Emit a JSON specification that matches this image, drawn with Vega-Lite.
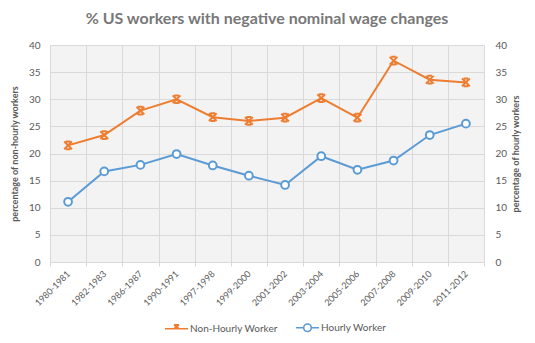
{
  "$schema": "https://vega.github.io/schema/vega-lite/v6.json",
  "autosize": "none",
  "padding": {"left": 50, "top": 45, "right": 51, "bottom": 81},
  "width": 434,
  "height": 217,
  "background": "white",
  "title": {
    "text": "% US workers with negative nominal  wage changes",
    "font": "Lato",
    "fontSize": 16,
    "fontWeight": "bold",
    "color": "#787878",
    "anchor": "middle",
    "offset": 13,
    "letterSpacing": 1.5
  },
  "data": {
    "values": [
      {"period": "1980-1981", "series": "Non-Hourly Worker", "value": 21.5},
      {"period": "1982-1983", "series": "Non-Hourly Worker", "value": 23.4},
      {"period": "1986-1987", "series": "Non-Hourly Worker", "value": 27.9},
      {"period": "1990-1991", "series": "Non-Hourly Worker", "value": 30.0},
      {"period": "1997-1998", "series": "Non-Hourly Worker", "value": 26.7},
      {"period": "1999-2000", "series": "Non-Hourly Worker", "value": 26.0},
      {"period": "2001-2002", "series": "Non-Hourly Worker", "value": 26.6},
      {"period": "2003-2004", "series": "Non-Hourly Worker", "value": 30.2},
      {"period": "2005-2006", "series": "Non-Hourly Worker", "value": 26.6},
      {"period": "2007-2008", "series": "Non-Hourly Worker", "value": 37.1},
      {"period": "2009-2010", "series": "Non-Hourly Worker", "value": 33.6},
      {"period": "2011-2012", "series": "Non-Hourly Worker", "value": 33.1},
      {"period": "1980-1981", "series": "Hourly Worker", "value": 11.1},
      {"period": "1982-1983", "series": "Hourly Worker", "value": 16.7},
      {"period": "1986-1987", "series": "Hourly Worker", "value": 17.9},
      {"period": "1990-1991", "series": "Hourly Worker", "value": 19.9},
      {"period": "1997-1998", "series": "Hourly Worker", "value": 17.8},
      {"period": "1999-2000", "series": "Hourly Worker", "value": 15.9},
      {"period": "2001-2002", "series": "Hourly Worker", "value": 14.2},
      {"period": "2003-2004", "series": "Hourly Worker", "value": 19.5},
      {"period": "2005-2006", "series": "Hourly Worker", "value": 17.0},
      {"period": "2007-2008", "series": "Hourly Worker", "value": 18.7},
      {"period": "2009-2010", "series": "Hourly Worker", "value": 23.4},
      {"period": "2011-2012", "series": "Hourly Worker", "value": 25.5}
    ]
  },
  "config": {
    "font": "Lato",
    "view": {"fill": "#f3f3f3", "stroke": null},
    "axis": {
      "labelFont": "Lato",
      "labelColor": "#595959",
      "titleFont": "Lato",
      "titleColor": "#595959",
      "gridColor": "#d9d9d9",
      "gridWidth": 1,
      "domainColor": "#d9d9d9",
      "tickColor": "#d9d9d9"
    }
  },
  "layer": [
    {
      "transform": [{"filter": "datum.series === 'Non-Hourly Worker'"}],
      "encoding": {
        "x": {
          "field": "period",
          "type": "ordinal",
          "sort": null,
          "scale": {"type": "band", "paddingInner": 0, "paddingOuter": 0},
          "axis": {
            "title": null,
            "tickBand": "extent",
            "grid": true,
            "ticks": true,
            "tickSize": 4,
            "domain": true,
            "labelAngle": -45,
            "labelAlign": "right",
            "labelBaseline": "middle",
            "labelPadding": 6,
            "labelFontSize": 9
          }
        },
        "y": {
          "field": "value",
          "type": "quantitative",
          "scale": {"domain": [0, 40], "nice": false},
          "axis": {
            "orient": "left",
            "values": [0, 5, 10, 15, 20, 25, 30, 35, 40],
            "title": "percentage of non-hourly workers",
            "titleFontSize": 9,
            "titleFontWeight": "bold",
            "titlePadding": 9,
            "labelFontSize": 10,
            "labelPadding": 10,
            "domain": false,
            "ticks": false,
            "grid": true
          }
        },
        "color": {
          "field": "series",
          "type": "nominal",
          "scale": {"domain": ["Non-Hourly Worker", "Hourly Worker"], "range": ["#ed7d31", "#5b9bd5"]},
          "legend": {
            "title": null,
            "orient": "none",
            "legendX": 114,
            "legendY": 270,
            "direction": "horizontal",
            "symbolSize": 529,
            "symbolStrokeWidth": 1.6,
            "labelFontSize": 10,
            "labelColor": "#595959",
            "labelOffset": 1,
            "columnPadding": 14,
            "encode": {
              "symbols": {
                "update": {
                  "shape": {"signal": "datum.value === 'Hourly Worker' ? 'M-1,0H-0.33M0.33,0H1M-0.33,0A0.33,0.33 0 1,0 0.33,0A0.33,0.33 0 1,0 -0.33,0' : 'M-1,0H1M-0.22,-0.34L0.22,0M-0.22,0L0.22,-0.34M-0.22,-0.34H0.22'"},
                  "fill": {"value": "white"},
                  "strokeWidth": {"value": 1.6}
                }
              }
            }
          }
        }
      },
      "layer": [
        {"mark": {"type": "line", "strokeWidth": 2}},
        {"mark": {"type": "point", "shape": "M-1,-1L1,1M-1,1L1,-1M-0.6,-1H0.6M-0.6,1H0.6", "filled": false, "size": 60, "strokeWidth": 2, "opacity": 1}}
      ]
    },
    {
      "transform": [{"filter": "datum.series === 'Hourly Worker'"}],
      "encoding": {
        "x": {
          "field": "period",
          "type": "ordinal",
          "sort": null,
          "scale": {"type": "band", "paddingInner": 0, "paddingOuter": 0},
          "axis": {
            "title": null,
            "tickBand": "extent",
            "grid": true,
            "ticks": true,
            "tickSize": 4,
            "domain": true,
            "labelAngle": -45,
            "labelAlign": "right",
            "labelBaseline": "middle",
            "labelPadding": 6,
            "labelFontSize": 9
          }
        },
        "y": {
          "field": "value",
          "type": "quantitative",
          "scale": {"domain": [0, 40], "nice": false},
          "axis": {
            "orient": "right",
            "values": [0, 5, 10, 15, 20, 25, 30, 35, 40],
            "title": "percentage of hourly workers",
            "titleAngle": 270,
            "titleBaseline": "bottom",
            "titleFontSize": 9,
            "titleFontWeight": "bold",
            "titlePadding": 14,
            "labelFontSize": 10,
            "labelPadding": 11,
            "domain": false,
            "ticks": false,
            "grid": false
          }
        },
        "color": {
          "field": "series",
          "type": "nominal",
          "scale": {"domain": ["Non-Hourly Worker", "Hourly Worker"], "range": ["#ed7d31", "#5b9bd5"]}
        }
      },
      "layer": [
        {"mark": {"type": "line", "strokeWidth": 2}},
        {"mark": {"type": "point", "shape": "circle", "filled": false, "fill": "white", "size": 60, "strokeWidth": 2, "opacity": 1}}
      ]
    }
  ],
  "resolve": {"scale": {"y": "independent"}}
}
